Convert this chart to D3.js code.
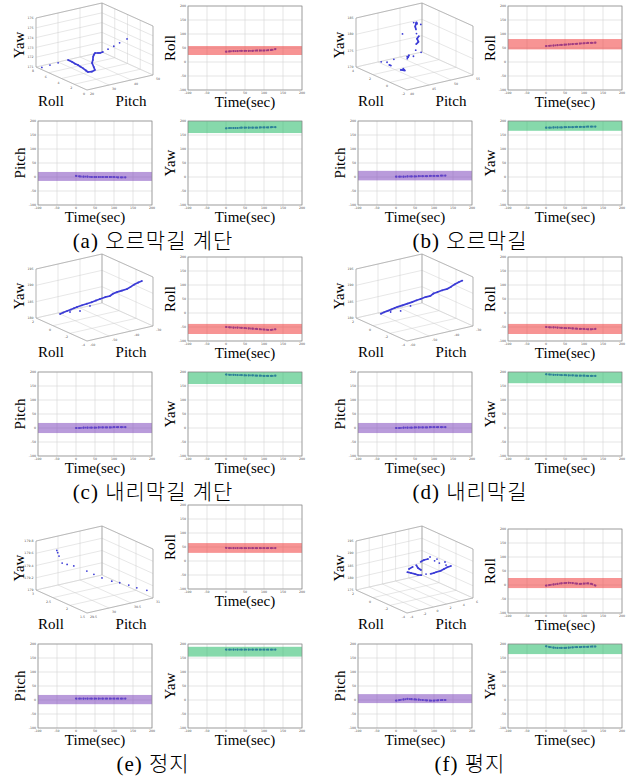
<!DOCTYPE html>
<html>
<head>
<meta charset="utf-8">
<script src="https://cdn.jsdelivr.net/npm/d3@7"></script>
<style>
  body { margin: 0; background: #fff; }
  svg { display: block; }
</style>
</head>
<body>
<svg id="chart" width="631" height="779"></svg>
<script>
// time axis shared by every small plot
const timeSec = [0, 10, 20, 30, 40, 50, 60, 70, 80, 90, 100, 110, 120, 130]

// (a) 오르막길 계단
const rollA  = [37, 38, 39, 39, 40, 40, 40, 40, 41, 41, 41, 42, 43, 46]
const pitchA = [4, 2, 1, 1, 0, 0, 0, 0, 0, 0, 0, -1, -1, -1]
const yawA   = [174, 175, 175, 175, 176, 176, 176, 176, 176, 177, 177, 177, 178, 178]
const rollBandA = [25, 57], pitchBandA = [-14, 18], yawBandA = [157, 200]
// (b) 오르막길
const rollB  = [57, 58, 59, 60, 61, 62, 63, 64, 65, 66, 67, 68, 68, 69]
const pitchB = [1, 1, 1, 2, 2, 2, 3, 3, 3, 4, 4, 4, 5, 5]
const yawB   = [176, 176, 177, 177, 177, 178, 178, 178, 179, 179, 179, 180, 180, 180]
const rollBandB = [45, 82], pitchBandB = [-12, 22], yawBandB = [165, 200]
// (c) 내리막길 계단
const rollC  = [-50, -51, -52, -52, -53, -54, -55, -56, -57, -58, -59, -60, -60, -58]
const pitchC = [0, 0, 1, 1, 1, 1, 2, 2, 2, 2, 3, 3, 3, 3]
const yawC   = [191, 190, 190, 189, 189, 188, 188, 188, 187, 187, 186, 186, 186, 187]
const rollBandC = [-75, -39], pitchBandC = [-18, 18], yawBandC = [157, 200]
// (d) 내리막길
const rollD  = [-50, -51, -51, -52, -53, -54, -54, -55, -56, -57, -57, -58, -58, -57]
const pitchD = [0, 0, 1, 1, 1, 2, 2, 2, 2, 3, 3, 3, 3, 3]
const yawD   = [192, 191, 190, 190, 189, 189, 188, 188, 187, 187, 187, 186, 186, 186]
const rollBandD = [-75, -39], pitchBandD = [-18, 18], yawBandD = [160, 200]
// (e) 정지
const rollE  = [47, 46, 46, 46, 46, 46, 46, 46, 46, 46, 46, 46, 46, 46]
const pitchE = [5, 5, 5, 5, 5, 5, 5, 5, 5, 5, 5, 5, 5, 5]
const yawE   = [180, 180, 180, 180, 180, 180, 180, 180, 180, 180, 180, 180, 180, 180]
const rollBandE = [29, 64], pitchBandE = [-15, 18], yawBandE = [155, 190]
// (f) 평지
const rollF  = [-2, 0, 2, 4, 6, 7, 8, 7, 5, 4, 5, 6, 4, -2]
const pitchF = [-2, 0, 2, 4, 3, 2, 1, 0, -1, -2, -2, -1, 0, 0]
const yawF   = [192, 189, 187, 186, 186, 186, 187, 188, 189, 189, 190, 190, 191, 191]
const rollBandF = [-11, 25], pitchBandF = [-11, 21], yawBandF = [164, 200]

// 3D trajectories (roll, pitch, yaw) and their axis ranges
const roll3A  = [7.6, 7.36, 7.12, 6.81, 6.4, 6.0, 5.69, 5.2, 4.64, 4.0, 3.54, 3.2, 3.07, 3.6, 4.28, 4.16, 4.0, 3.84, 3.6, 3.44, 3.34, 3.2, 3.12, 3.04, 2.96, 2.9]
const pitch3A = [21.5, 24.5, 27.5, 31.1, 31.7, 32.0, 32.4, 32.0, 31.7, 31.1, 30.7, 31.4, 32.5, 33.5, 34.7, 34.7, 34.4, 34.25, 34.1, 35.0, 35.6, 36.5, 38.6, 41.0, 43.4, 46.6]
const yaw3A   = [171.0, 171.15, 171.3, 171.5, 171.4, 171.3, 171.25, 171.25, 171.25, 171.25, 171.25, 171.35, 171.5, 171.6, 171.75, 172.1, 172.5, 172.75, 173.0, 173.0, 173.0, 173.1, 173.3, 173.5, 173.75, 174.0]
const roll3TicksA = [0, 2, 4, 6, 8], pitch3TicksA = [20, 30, 40, 50], yaw3TicksA = [171, 172, 173, 174, 175, 176]

const roll3B  = [2.2, 1.9, 2.02, 1.6, 1.72, 1.3, 1.18, 1.06, 1.12, 1.24, 1.48, 1.36, 1.42, 1.3, 1.9, 2.02, 2.2, 2.08, 2.26, 2.2, 2.32, 2.38, 2.32, 2.38, 2.5, 2.62, 2.26, 2.2, 2.8, 2.8, 1.0]
const pitch3B = [42.25, 43.0, 43.75, 43.3, 44.2, 44.95, 45.25, 45.1, 45.55, 45.4, 46.75, 46.75, 47.05, 46.45, 49.0, 49.75, 50.2, 50.5, 50.5, 50.8, 50.5, 50.5, 50.2, 50.5, 50.8, 51.1, 50.5, 51.25, 50.8, 48.25, 49.0]
const yaw3B   = [173.0, 173.0, 171.8, 172.25, 173.75, 170.75, 170.75, 170.9, 170.6, 171.05, 174.05, 174.05, 174.5, 173.75, 173.0, 174.5, 176.0, 176.75, 177.5, 178.25, 179.0, 180.2, 181.25, 181.85, 182.0, 181.85, 182.0, 181.7, 181.7, 179.0, 175.25]
const roll3TicksB = [-2, 0, 2, 4], pitch3TicksB = [40, 45, 50, 55], yaw3TicksB = [170, 175, 180, 185]

const roll3C  = [1.32, 1.28, 1.22, 1.16, 1.1, 1.02, 0.86, 0.68, 0.5, 0.38, 0.22, 0.08, -0.07, -0.22, -0.52, -0.88, -1.23, -1.6, -2.02, -2.5, -2.98, 1.7, 1.48, 1.11]
const pitch3C = [-51.7, -50.4, -48.9, -47.4, -46.2, -45.15, -43.5, -42.0, -40.5, -39.0, -37.8, -36.0, -34.4, -33.6, -33.0, -32.1, -31.1, -30.9, -30.9, -30.9, -31.1, -45.7, -42.0, -38.9]
const yaw3C   = [180.75, 181.05, 181.35, 181.65, 181.95, 182.25, 182.7, 183.15, 183.6, 184.05, 184.5, 184.95, 185.25, 186.0, 186.75, 187.5, 188.25, 189.3, 190.5, 191.7, 192.75, 180.0, 180.0, 181.5]
const roll3TicksC = [-4, -2, 0, 2], pitch3TicksC = [-60, -50, -40, -30], yaw3TicksC = [180, 185, 190, 195]

const roll3D  = [1.3, 1.26, 1.2, 1.14, 1.08, 1.0, 0.84, 0.66, 0.5, 0.36, 0.2, 0.06, -0.1, -0.26, -0.56, -0.9, -1.25, -1.64, -2.06, -2.52, -3.0, 1.68, 1.46, 1.1]
const pitch3D = [-51.4, -50.1, -48.7, -47.2, -46.0, -45.0, -43.4, -41.8, -40.3, -38.8, -37.6, -35.9, -34.3, -33.5, -32.8, -32.0, -31.0, -30.8, -30.8, -30.8, -31.0, -45.5, -41.8, -38.7]
const yaw3D   = [180.8, 181.1, 181.4, 181.7, 182.0, 182.3, 182.7, 183.2, 183.6, 184.1, 184.5, 185.0, 185.3, 186.1, 186.8, 187.6, 188.3, 189.4, 190.6, 191.8, 192.9, 180.0, 180.0, 181.5]
const roll3TicksD = [-4, -2, 0, 2], pitch3TicksD = [-60, -50, -40, -30], yaw3TicksD = [180, 185, 190, 195]

const roll3E  = [2.97, 2.97, 2.97, 2.955, 2.9, 2.82, 2.63, 2.5, 2.34, 2.13, 2.09, 1.98, 1.86, 1.68]
const pitch3E = [29.95, 29.97, 30.0, 30.06, 30.13, 30.22, 30.37, 30.43, 30.49, 30.55, 30.7, 30.82, 30.91, 31.0]
const yaw3E   = [179.58, 179.54, 179.48, 179.36, 179.34, 179.32, 179.26, 179.23, 179.2, 179.19, 179.15, 179.12, 179.09, 179.08]
const roll3TicksE = [1.5, 2, 2.5, 3], pitch3TicksE = [29.5, 30, 30.5, 31], yaw3TicksE = [179, 179.2, 179.4, 179.6, 179.8]

const roll3F  = [0.15, -0.2, -0.55, -1.02, -1.49, -1.97, -2.43, -1.35, -1.71, -2.06, -2.53, -3.0, -3.35, -1.99, -1.28, -0.57, 0.13, -1.73, -1.26, -0.9, -1.02, -1.38, -0.32, 0.04, -0.11, -0.93, -1.87]
const pitch3F = [1.4, 1.5, 1.6, 1.5, 1.4, 1.5, 1.6, 3.5, 3.4, 3.6, 3.5, 3.4, 3.5, 4.5, 4.4, 4.6, 4.5, 1.5, 1.6, 1.4, 1.5, 1.5, 1.6, 1.5, 4.5, 4.5, 4.5]
const yaw3F   = [181.86, 182.02, 182.16, 182.48, 183.22, 184.36, 185.1, 182.6, 183.6, 184.52, 186.06, 187.6, 188.6, 186.2, 185.96, 185.66, 185.38, 189.72, 188.16, 186.38, 185.34, 185.08, 184.64, 183.28, 186.56, 187.0, 187.28]
const roll3TicksF = [-4, -2, 0, 2], pitch3TicksF = [-4, -2, 0, 2, 4, 6], yaw3TicksF = [175, 180, 185, 190, 195]

const titles = ["(a) 오르막길 계단", "(b) 오르막길", "(c) 내리막길 계단", "(d) 내리막길", "(e) 정지", "(f) 평지"]

const SERIF = "'Liberation Serif','DejaVu Serif',serif"
const TICK_FONT = "'DejaVu Sans',sans-serif"
const DOT = "#3b3bd6"
const BAND = { roll: "#f03c3c", pitch: "#8049be", yaw: "#23ba66" }

// plot sizes
const TS_W = 114, TS_H = 84

const svg = d3.select("#chart")
svg.append("rect").attr("width", 631).attr("height", 779).attr("fill", "#fff")

function drawTS(x0, y0, values, band, label, color){
  let g = svg.append("g").attr("transform", "translate(" + x0 + "," + y0 + ")")
  var x = d3.scaleLinear().domain([-100, 200]).range([0, TS_W])
  var y = d3.scaleLinear().domain([-100, 200]).range([TS_H, 0])
  let ticks = d3.range(-100, 201, 50)

  // grid
  g.selectAll(".gx").data(ticks).enter().append("line")
    .attr("x1", d => x(d)).attr("x2", d => x(d)).attr("y1", 0).attr("y2", TS_H)
    .attr("stroke", "#d4d4d4").attr("stroke-width", 0.6)
  g.selectAll(".gy").data(ticks).enter().append("line")
    .attr("y1", d => y(d)).attr("y2", d => y(d)).attr("x1", 0).attr("x2", TS_W)
    .attr("stroke", "#d4d4d4").attr("stroke-width", 0.6)

  // the measured curve
  let pts = timeSec.map((t, i) => [t, values[i]])
  g.append("path").datum(pts)
    .attr("fill", "none").attr("stroke", DOT).attr("stroke-width", 1.8)
    .attr("stroke-dasharray", "1.4,0.8")
    .attr("d", d3.line().x(d => x(d[0])).y(d => y(d[1])))
  g.selectAll(".pt").data(pts).enter().append("circle")
    .attr("cx", d => x(d[0])).attr("cy", d => y(d[1])).attr("r", 1.1)
    .attr("fill", DOT)

  // reference band drawn over the curve, half transparent
  g.append("rect")
    .attr("x", 0).attr("width", TS_W)
    .attr("y", y(band[1])).attr("height", y(band[0]) - y(band[1]))
    .attr("fill", color).attr("fill-opacity", 0.55)

  g.append("rect").attr("width", TS_W).attr("height", TS_H)
    .attr("fill", "none").attr("stroke", "#8a8a8a").attr("stroke-width", 0.7)

  // tiny tick labels
  g.selectAll(".tx").data(ticks).enter().append("text")
    .attr("x", d => x(d)).attr("y", TS_H + 3.6)
    .attr("text-anchor", "middle").attr("font-size", 3.2).attr("fill", "#555")
    .attr("font-family", TICK_FONT).text(d => d)
  g.selectAll(".ty").data(ticks).enter().append("text")
    .attr("x", -2).attr("y", d => y(d) + 1.2)
    .attr("text-anchor", "end").attr("font-size", 3.2).attr("fill", "#555")
    .attr("font-family", TICK_FONT).text(d => d)

  g.append("text")
    .attr("transform", "translate(-18," + (TS_H / 2) + ") rotate(-90)")
    .attr("text-anchor", "middle").attr("dominant-baseline", "central")
    .attr("font-family", SERIF).attr("font-size", 15).text(label)
  g.append("text")
    .attr("x", TS_W / 2).attr("y", TS_H + 16.5)
    .attr("text-anchor", "middle")
    .attr("font-family", SERIF).attr("font-size", 15).text("Time(sec)")
}

// oblique 3D box: u runs left->front corner, v front->right corner, w is up
const U = [51, 23], V = [66, -15], WH = 49
function proj(u, v, w){ return [u * U[0] + v * V[0], u * U[1] + v * V[1] - w * WH] }

function draw3D(lx, ly, roll, pitch, yaw, rTicks, pTicks, yTicks, joinGap){
  let g = svg.append("g").attr("transform", "translate(" + lx + "," + ly + ")")
  let rs = d3.scaleLinear().domain([d3.max(rTicks), d3.min(rTicks)]).range([0, 1])
  let ps = d3.scaleLinear().domain(d3.extent(pTicks)).range([0, 1])
  let ys = d3.scaleLinear().domain(d3.extent(yTicks)).range([0, 1])

  function seg(a, b, col, sw){
    let p = proj(a[0], a[1], a[2]), q = proj(b[0], b[1], b[2])
    g.append("line").attr("x1", p[0]).attr("y1", p[1]).attr("x2", q[0]).attr("y2", q[1])
      .attr("stroke", col).attr("stroke-width", sw)
  }
  const GRID = "#cfcfcf", EDGE = "#9a9a9a"
  for(let t of yTicks){
    let w = ys(t)
    seg([0, 0, w], [0, 1, w], GRID, 0.5)
    seg([0, 1, w], [1, 1, w], GRID, 0.5)
  }
  for(let t of pTicks){
    let v = ps(t)
    seg([0, v, 0], [0, v, 1], GRID, 0.5)
    seg([0, v, 0], [1, v, 0], GRID, 0.5)
  }
  for(let t of rTicks){
    let u = rs(t)
    seg([u, 1, 0], [u, 1, 1], GRID, 0.5)
    seg([u, 0, 0], [u, 1, 0], GRID, 0.5)
  }
  // box edges
  seg([0, 0, 0], [1, 0, 0], EDGE, 0.6)
  seg([1, 0, 0], [1, 1, 0], EDGE, 0.6)
  seg([0, 0, 0], [0, 0, 1], EDGE, 0.6)
  seg([0, 1, 0], [0, 1, 1], EDGE, 0.6)
  seg([1, 1, 0], [1, 1, 1], EDGE, 0.6)
  seg([0, 0, 1], [0, 1, 1], EDGE, 0.6)
  seg([0, 1, 1], [1, 1, 1], EDGE, 0.6)

  // tick labels
  let tickText = (p, s, anchor) => g.append("text").attr("x", p[0]).attr("y", p[1])
      .attr("text-anchor", anchor).attr("font-size", 3.2).attr("fill", "#555")
      .attr("font-family", TICK_FONT).text(s)
  for(let t of yTicks){ let p = proj(0, 0, ys(t)); tickText([p[0] - 2.5, p[1] + 1.1], t, "end") }
  for(let t of rTicks){ let p = proj(rs(t), 0, 0); tickText([p[0] - 2, p[1] + 5], t, "end") }
  for(let t of pTicks){ let p = proj(1, ps(t), 0); tickText([p[0] + 3, p[1] + 4.5], t, "start") }

  // trajectory
  let pts = roll.map((r, i) => proj(rs(r), ps(pitch[i]), ys(yaw[i])))
  d3.pairs(pts).forEach(([a, b]) => {
    if(Math.hypot(a[0] - b[0], a[1] - b[1]) < joinGap){
      g.append("line").attr("x1", a[0]).attr("y1", a[1]).attr("x2", b[0]).attr("y2", b[1])
        .attr("stroke", DOT).attr("stroke-width", 1.7)
    }
  })
  g.selectAll(".p3").data(pts).enter().append("circle")
    .attr("cx", d => d[0]).attr("cy", d => d[1]).attr("r", 0.9).attr("fill", DOT)

  g.append("text")
    .attr("transform", "translate(-17,-22) rotate(-90)")
    .attr("text-anchor", "middle").attr("dominant-baseline", "central")
    .attr("font-family", SERIF).attr("font-size", 15).text("Yaw")
  g.append("text").attr("x", 15).attr("y", 39).attr("text-anchor", "middle")
    .attr("font-family", SERIF).attr("font-size", 15).text("Roll")
  g.append("text").attr("x", 95).attr("y", 39).attr("text-anchor", "middle")
    .attr("font-family", SERIF).attr("font-size", 15).text("Pitch")
}

const panels = [
  { ts: [rollA, pitchA, yawA], bands: [rollBandA, pitchBandA, yawBandA], d3d: [roll3A, pitch3A, yaw3A, roll3TicksA, pitch3TicksA, yaw3TicksA], gap: 4.6, rollLift: 0 },
  { ts: [rollB, pitchB, yawB], bands: [rollBandB, pitchBandB, yawBandB], d3d: [roll3B, pitch3B, yaw3B, roll3TicksB, pitch3TicksB, yaw3TicksB], gap: 3.5, rollLift: 0 },
  { ts: [rollC, pitchC, yawC], bands: [rollBandC, pitchBandC, yawBandC], d3d: [roll3C, pitch3C, yaw3C, roll3TicksC, pitch3TicksC, yaw3TicksC], gap: 6.5, rollLift: 0 },
  { ts: [rollD, pitchD, yawD], bands: [rollBandD, pitchBandD, yawBandD], d3d: [roll3D, pitch3D, yaw3D, roll3TicksD, pitch3TicksD, yaw3TicksD], gap: 6.5, rollLift: 0 },
  { ts: [rollE, pitchE, yawE], bands: [rollBandE, pitchBandE, yawBandE], d3d: [roll3E, pitch3E, yaw3E, roll3TicksE, pitch3TicksE, yaw3TicksE], gap: 0, rollLift: 24 },
  { ts: [rollF, pitchF, yawF], bands: [rollBandF, pitchBandF, yawBandF], d3d: [roll3F, pitch3F, yaw3F, roll3TicksF, pitch3TicksF, yaw3TicksF], gap: 4.5, rollLift: 0 },
]

const colDx = [0, 320], rowDy = [0, 251, 523], titleX = [153, 470]

panels.forEach((p, i) => {
  let dx = colDx[i % 2], dy = rowDy[Math.floor(i / 2)]
  draw3D(36 + dx, 67 + dy, ...p.d3d, p.gap)
  drawTS(188 + dx, 6 + dy - p.rollLift, p.ts[0], p.bands[0], "Roll", BAND.roll)
  drawTS(38 + dx, 121 + dy, p.ts[1], p.bands[1], "Pitch", BAND.pitch)
  drawTS(188 + dx, 121 + dy, p.ts[2], p.bands[2], "Yaw", BAND.yaw)
  svg.append("text").attr("x", titleX[i % 2]).attr("y", 248 + dy)
    .attr("text-anchor", "middle")
    .attr("font-family", SERIF + ",'Noto Sans CJK KR'").attr("font-size", 21)
    .attr("font-weight", 300).attr("letter-spacing", 1)
    .text(titles[i])
})
</script>
</body>
</html>
